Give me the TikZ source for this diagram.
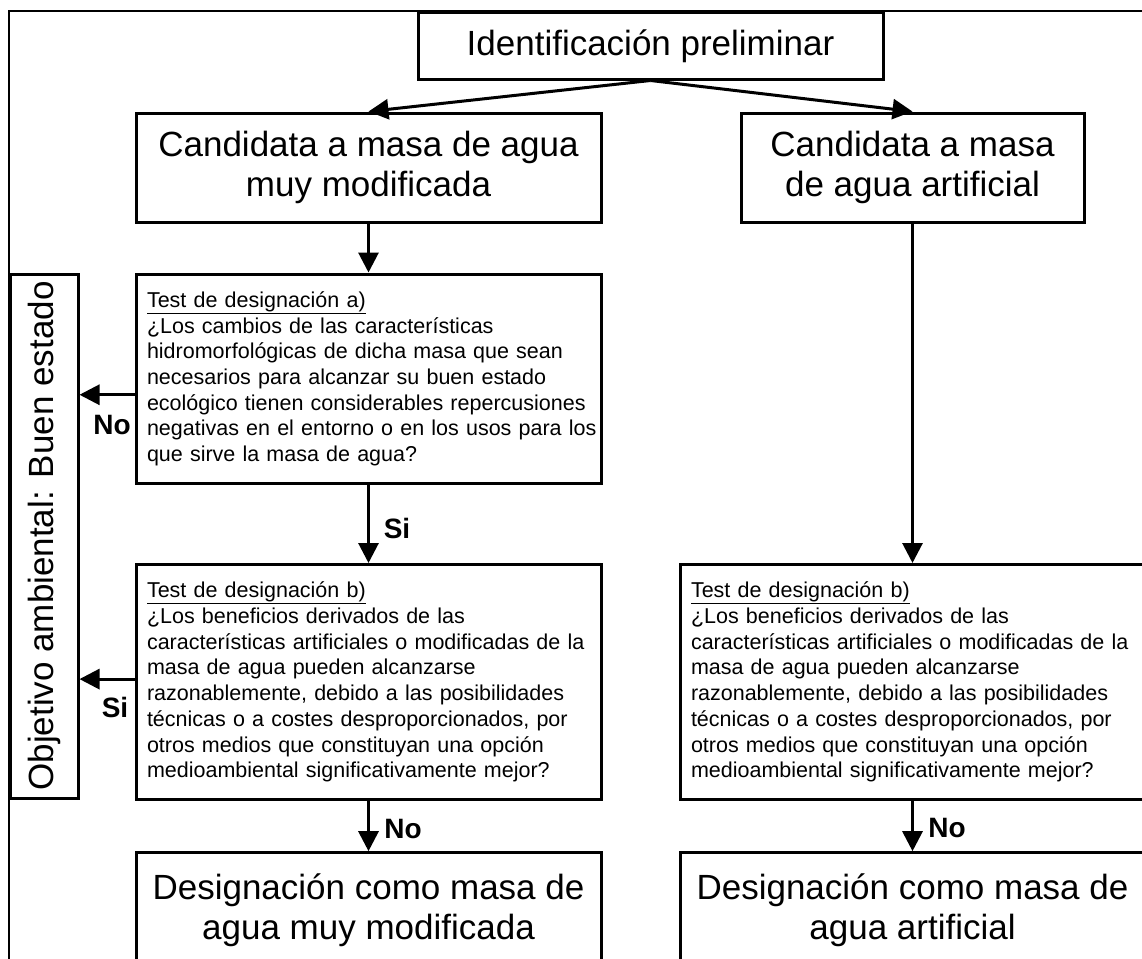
\documentclass[tikz,border=0pt]{standalone}
\usepackage{fontspec}
\setmainfont{Liberation Sans}
\usepackage{graphicx}
\usepackage{tikz}
\usetikzlibrary{arrows.meta, positioning}

\begin{document}
\begin{tikzpicture}[
        x=1pt, y=-1pt,
        box/.style={draw, rectangle, line width=3pt, align=center, inner sep=0pt, font=\fontsize{35}{40}\selectfont},
        testbox/.style={draw, rectangle, line width=3pt, text width=443pt, align=left, inner xsep=11pt, inner ysep=17.5pt, font=\fontsize{21.5}{25.7}\selectfont},
        flow/.style={line width=3pt, -{Triangle[length=20pt, width=20pt]}},
        lbl/.style={inner sep=0pt, font=\fontsize{28}{32}\selectfont\bfseries},
        marco/.style={line width=2pt}
    ]
        \path[use as bounding box, clip] (0,0) rectangle (1142,958);

        % Marco exterior
        \draw[marco] (9,11) rectangle (1200,1020);

        % Cajas
        \node[box, minimum width=465pt, minimum height=66pt] (ident) at (650.5,46) {Identificación preliminar};
        \node[box, minimum width=465pt, minimum height=109pt] (cand1) at (368.5,167.5) {Candidata a masa de agua\\muy modificada};
        \node[box, minimum width=343pt, minimum height=109pt] (cand2) at (912.5,167.5) {Candidata a masa\\de agua artificial};

        \node[testbox, below=49pt of cand1] (testa) {\underline{Test de designación a)}\\
            ¿Los cambios de las características\\
            hidromorfológicas de dicha masa que sean\\
            necesarios para alcanzar su buen estado\\
            \mbox{ecológico tienen considerables repercusiones}\\
            \mbox{negativas en el entorno o en los usos para los}\\
            que sirve la masa de agua?};
        \node[testbox, below=78pt of testa] (testb1) {\underline{Test de designación b)}\\
            ¿Los beneficios derivados de las\\
            \mbox{características artificiales o modificadas de la}\\
            masa de agua pueden alcanzarse\\
            razonablemente, debido a las posibilidades\\
            técnicas o a costes desproporcionados, por\\
            otros medios que constituyan una opción\\
            medioambiental significativamente mejor?};
        \node[testbox, anchor=north] (testb2) at (cand2.south |- testb1.north) {\underline{Test de designación b)}\\
            ¿Los beneficios derivados de las\\
            \mbox{características artificiales o modificadas de la}\\
            masa de agua pueden alcanzarse\\
            razonablemente, debido a las posibilidades\\
            técnicas o a costes desproporcionados, por\\
            otros medios que constituyan una opción\\
            medioambiental significativamente mejor?};

        \node[box, minimum width=465pt, minimum height=115pt, below=50pt of testb1] (des1) {Designación como masa de\\agua muy modificada};
        \node[box, minimum width=465pt, minimum height=115pt, below=50pt of testb2] (des2) {Designación como masa de\\agua artificial};

        \node[box, minimum width=68pt, minimum height=524pt] (obj) at (44,536) {\rotatebox{90}{Objetivo ambiental: Buen estado}};

        % Flechas
        \draw[flow] (ident.south) -- (cand1.north);
        \draw[flow] (ident.south) -- (cand2.north);
        \draw[flow] (cand1) -- (testa);
        \draw[flow] (testa) -- (testb1);
        \draw[flow] (testb1) -- (des1);
        \draw[flow] (cand2) -- (testb2);
        \draw[flow] (testb2) -- (des2);
        \draw[flow] ([yshift=-16pt]testa.west) -- ([yshift=-16pt]testa.west -| obj.east);
        \draw[flow] ([yshift=3pt]testb1.west) -- ([yshift=3pt]testb1.west -| obj.east);

        % Etiquetas
        \node[lbl] (noA) at (112,425) {No};
        \node[lbl] (siA) at (397,528) {Si};
        \node[lbl] (siB) at (115,707) {Si};
        \node[lbl] (noB) at (403,829) {No};
        \node[lbl] (noC) at (947,828) {No};
    \end{tikzpicture}
\end{document}
